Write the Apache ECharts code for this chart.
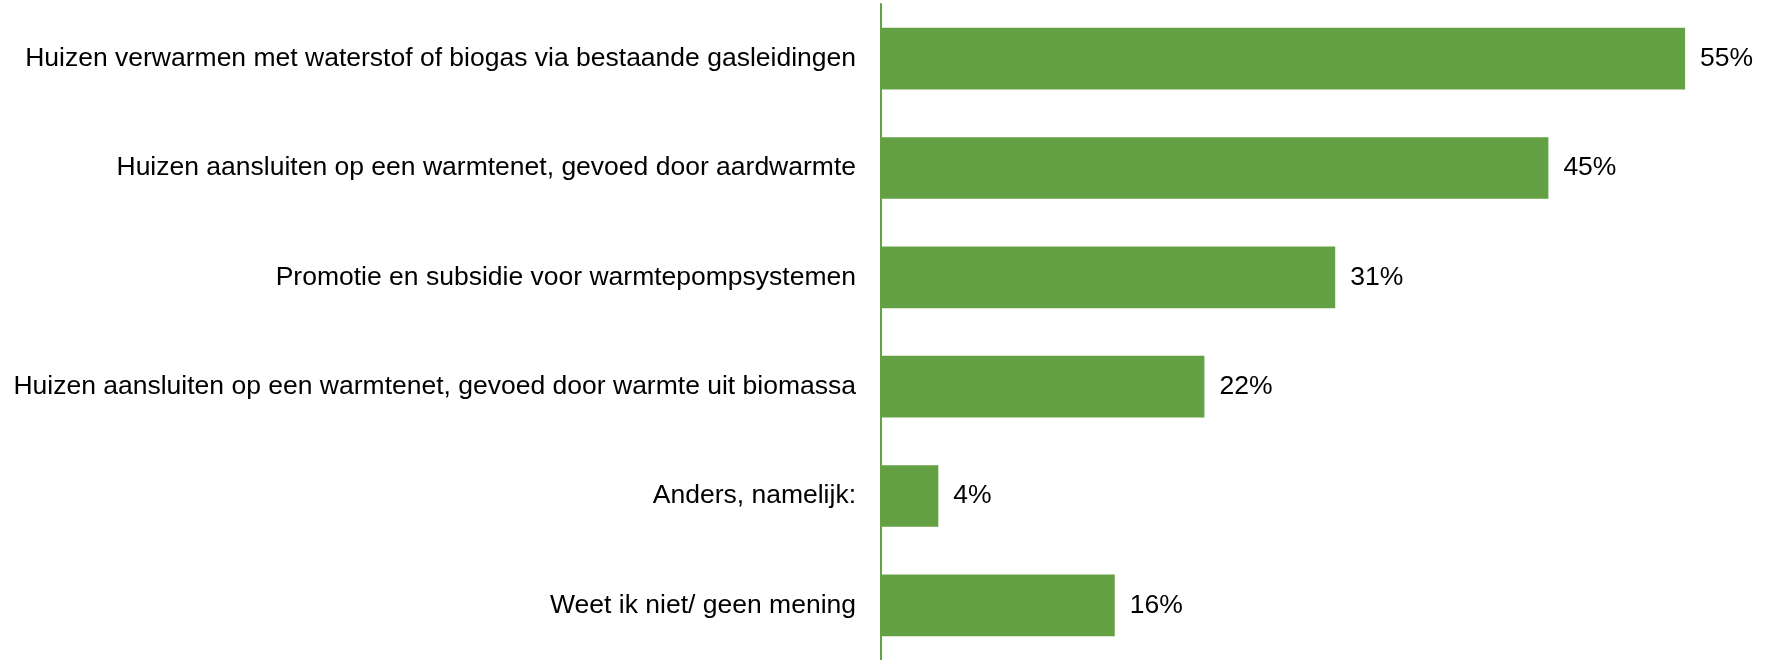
<!DOCTYPE html>
<html>
<head>
<meta charset="utf-8">
<script src="https://cdn.jsdelivr.net/npm/echarts@6/dist/echarts.min.js"></script>
<style>
html,body{margin:0;padding:0;background:#fff;}
#chart{width:1771px;height:660px;}
</style>
</head>
<body>
<div id="chart"></div>
<script>
const categories = [
  "Huizen verwarmen met waterstof of biogas via bestaande gasleidingen",
  "Huizen aansluiten op een warmtenet, gevoed door aardwarmte",
  "Promotie en subsidie voor warmtepompsystemen",
  "Huizen aansluiten op een warmtenet, gevoed door warmte uit biomassa",
  "Anders, namelijk:",
  "Weet ik niet/ geen mening"
];
const values = [54.7, 45.4, 30.9, 22.0, 3.9, 15.9];
const valueLabels = ["55%", "45%", "31%", "22%", "4%", "16%"];

const chart = echarts.init(document.getElementById('chart'), null, {renderer: 'canvas'});
chart.setOption({
  animation: false,
  backgroundColor: '#ffffff',
  grid: {left: 881, top: 4, width: 882, height: 660, containLabel: false},
  xAxis: {
    type: 'value', min: 0, max: 60,
    show: false
  },
  yAxis: {
    type: 'category',
    data: categories,
    inverse: true,
    axisLine: {show: true, lineStyle: {color: '#64A044', width: 2}},
    axisTick: {show: false},
    axisLabel: {
      margin: 25,
      color: '#000000',
      fontSize: 26.5,
      fontFamily: '"Liberation Sans", Arial, sans-serif'
    }
  },
  series: [{
    type: 'bar',
    data: values,
    barCategoryGap: '43.6%',
    itemStyle: {color: '#64A044'},
    label: {
      show: true,
      position: 'right',
      distance: 15,
      color: '#000000',
      fontSize: 26.5,
      fontFamily: '"Liberation Sans", Arial, sans-serif',
      formatter: p => valueLabels[p.dataIndex]
    }
  }]
});
</script>
</body>
</html>
